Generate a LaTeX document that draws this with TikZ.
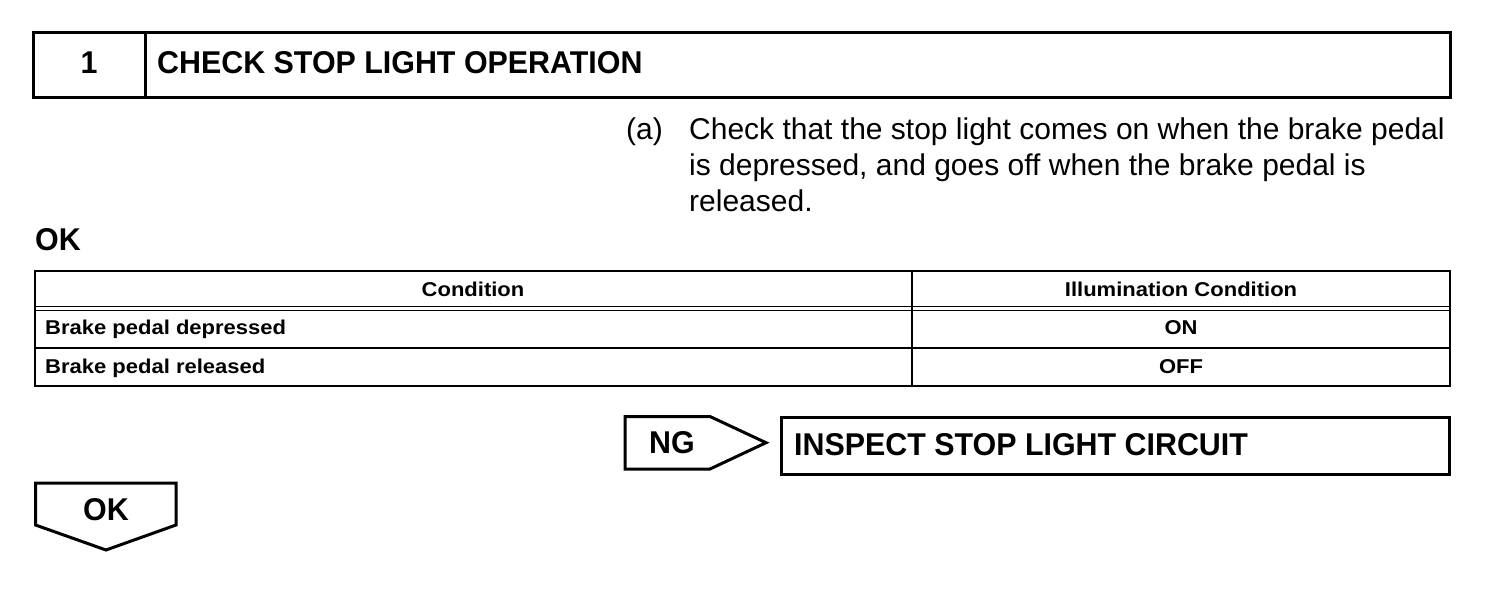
\documentclass[tikz,border=0pt]{standalone}
\usepackage{fontspec}
\setmainfont{Liberation Sans}
\newfontfamily\bignarrowb{Liberation Sans Bold}[FakeStretch=0.965]
\newfontfamily\tabwideb{Liberation Sans Bold}[FakeStretch=1.1]
\begin{document}
\begin{tikzpicture}[x=1pt,y=-1pt,
  bigb/.style={font=\fontsize{31.5}{36}\bignarrowb, inner sep=0pt},
  bigr/.style={font=\fontsize{30}{36}\selectfont, inner sep=0pt},
  tabb/.style={font=\fontsize{20}{24}\tabwideb, inner sep=0pt},
  thick3/.style={line width=3pt, line join=miter},
  tabline/.style={line width=2pt},
  thinline/.style={line width=1.5pt}]
\useasboundingbox (0,0) rectangle (1504,596);
% header box
\draw[thick3] (33.5,32.5) rectangle (1450.5,97.5);
\draw[thick3] (145,32.5) -- (145,97.5);
\node[bigb, anchor=base] (num) at (89,74) {1};
\node[bigb, anchor=base west] (title) at (157,74) {CHECK STOP LIGHT OPERATION};
% step (a)
\node[bigr, anchor=base west] (la) at (626,139.5) {(a)};
\node[bigr, anchor=base west] (l1) at (689,139.5) {Check that the stop light comes on when the brake pedal};
\node[bigr, anchor=base west] (l2) at (689,175.5) {is depressed, and goes off when the brake pedal is};
\node[bigr, anchor=base west] (l3) at (689,211.5) {released.};
% OK label
\node[bigb, anchor=base west] (oklbl) at (35,250) {OK};
% table
\draw[tabline] (35,271) rectangle (1449.5,386);
\draw[thinline] (35,306.5) -- (1449.5,306.5);
\draw[thinline] (35,310.7) -- (1449.5,310.7);
\draw[tabline] (35,348) -- (1449.5,348);
\draw[tabline] (911.5,271) -- (911.5,386);
\node[tabb, anchor=base] (h1) at (473,296) {Condition};
\node[tabb, anchor=base] (h2) at (1181,296) {Illumination Condition};
\node[tabb, anchor=base west] (r1) at (45,334) {Brake pedal depressed};
\node[tabb, anchor=base] (v1) at (1181,334) {ON};
\node[tabb, anchor=base west] (r2) at (45,373) {Brake pedal released};
\node[tabb, anchor=base] (v2) at (1181,373) {OFF};
% NG arrow
\draw[thick3] (625,416.5) -- (710,416.5) -- (766,442.7) -- (710,469) -- (625,469) -- cycle;
\node[bigb, anchor=base west] (ng) at (649,453) {NG};
% inspect box
\draw[thick3] (781.5,417) rectangle (1449,474.5);
\node[bigb, anchor=base west] (insp) at (794,455) {INSPECT STOP LIGHT CIRCUIT};
% OK down arrow
\draw[thick3] (35.5,483) -- (176,483) -- (176,525) -- (106,550) -- (35.5,525) -- cycle;
\node[bigb, anchor=base] (okarrow) at (106,520) {OK};
\end{tikzpicture}
\end{document}
